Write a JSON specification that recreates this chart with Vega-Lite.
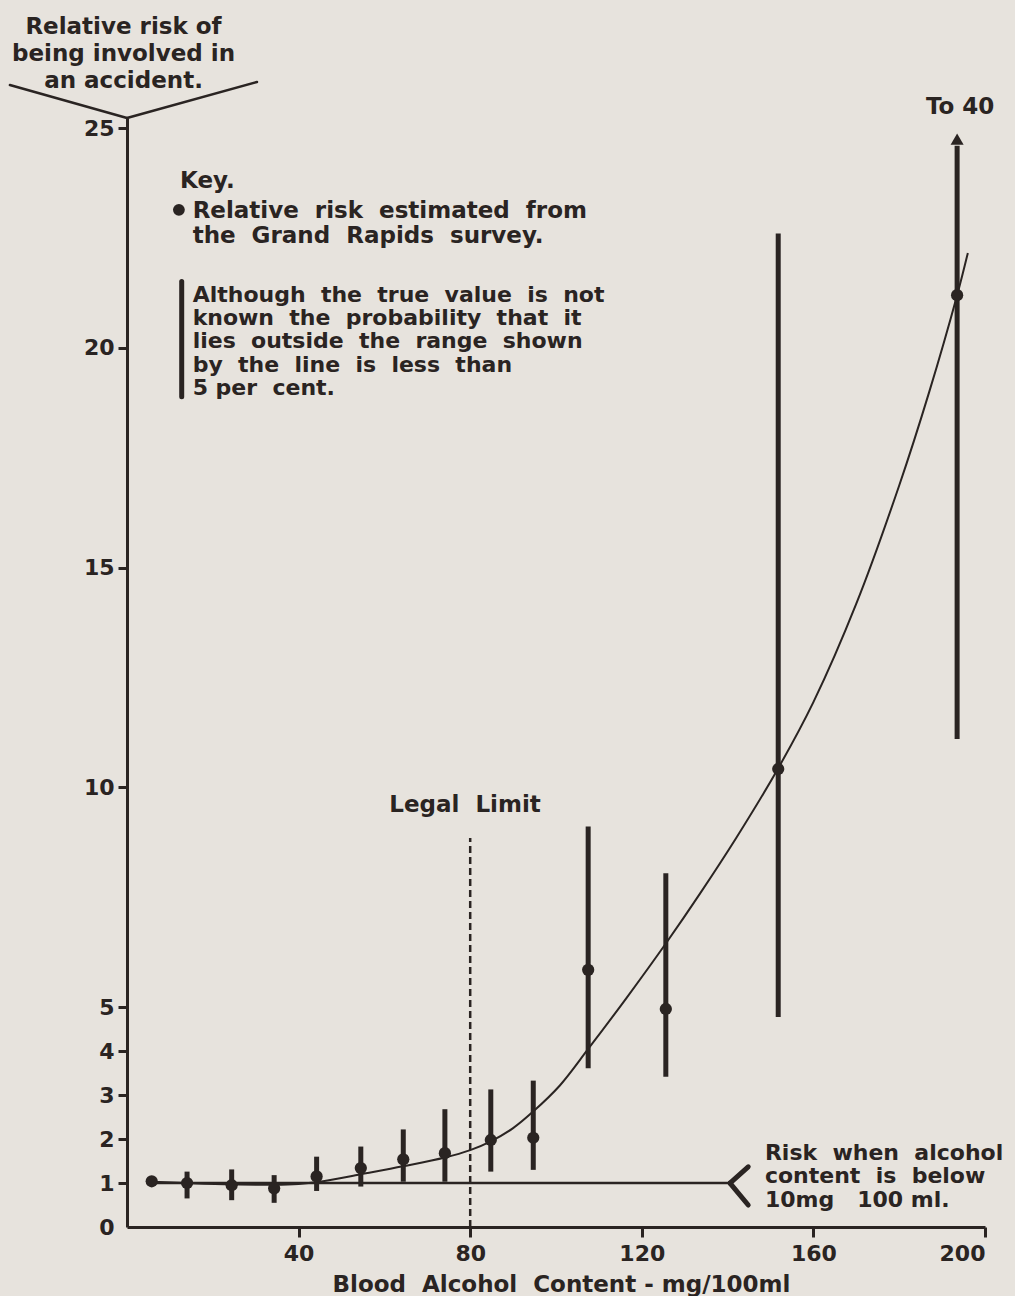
{
  "$schema": "https://vega.github.io/schema/vega-lite/v6.json",
  "width": 858,
  "height": 1109,
  "autosize": "none",
  "padding": {"left": 127, "top": 118, "right": 30, "bottom": 69},
  "background": "#e7e3dd",
  "config": {
    "view": {"stroke": null},
    "font": "DejaVu Sans",
    "axis": {
      "grid": false,
      "domainColor": "#2a2422",
      "domainWidth": 3,
      "tickColor": "#2a2422",
      "tickWidth": 3,
      "labelFont": "DejaVu Sans",
      "labelFontWeight": "bold",
      "labelFontSize": 22,
      "labelColor": "#2a2422",
      "titleFont": "DejaVu Sans",
      "titleFontWeight": "bold",
      "titleFontSize": 23,
      "titleColor": "#2a2422"
    }
  },
  "datasets": {
    "estimates": [
      {"x": 5.76, "y": 1.04},
      {"x": 14.0, "y": 1.0, "lo": 0.65, "hi": 1.26},
      {"x": 24.4, "y": 0.95, "lo": 0.61, "hi": 1.31},
      {"x": 34.3, "y": 0.88, "lo": 0.55, "hi": 1.18},
      {"x": 44.2, "y": 1.15, "lo": 0.82, "hi": 1.6},
      {"x": 54.5, "y": 1.34, "lo": 0.92, "hi": 1.83},
      {"x": 64.4, "y": 1.54, "lo": 1.03, "hi": 2.22},
      {"x": 74.1, "y": 1.68, "lo": 1.03, "hi": 2.68},
      {"x": 84.8, "y": 1.98, "lo": 1.26, "hi": 3.13},
      {"x": 94.7, "y": 2.03, "lo": 1.3, "hi": 3.33},
      {"x": 107.5, "y": 5.85, "lo": 3.61, "hi": 9.11},
      {"x": 125.6, "y": 4.96, "lo": 3.42, "hi": 8.05},
      {"x": 151.8, "y": 10.42, "lo": 4.78, "hi": 22.6},
      {"x": 193.5, "y": 21.2, "lo": 11.1, "hi": 24.6}
    ],
    "fitted": [
      {"x": 5.76, "y": 1.03},
      {"x": 14.0, "y": 1.0},
      {"x": 24.4, "y": 0.97},
      {"x": 34.3, "y": 0.96},
      {"x": 40.0, "y": 0.98},
      {"x": 45.7, "y": 1.04},
      {"x": 54.5, "y": 1.2},
      {"x": 64.3, "y": 1.38},
      {"x": 74.1, "y": 1.58},
      {"x": 80.0, "y": 1.75},
      {"x": 84.8, "y": 1.95},
      {"x": 90.0, "y": 2.25},
      {"x": 94.6, "y": 2.62},
      {"x": 100.9, "y": 3.22},
      {"x": 107.5, "y": 4.05},
      {"x": 116.5, "y": 5.22},
      {"x": 125.6, "y": 6.45},
      {"x": 133.6, "y": 7.59},
      {"x": 142.0, "y": 8.85},
      {"x": 151.7, "y": 10.42},
      {"x": 160.0, "y": 11.94},
      {"x": 170.0, "y": 14.18},
      {"x": 180.0, "y": 16.87},
      {"x": 187.0, "y": 19.0},
      {"x": 193.5, "y": 21.2},
      {"x": 196.0, "y": 22.16}
    ],
    "strokes": [
      {"part": "legal", "x": 80, "y": 0, "x2": 80, "y2": 8.85},
      {"part": "baseline", "x": 5.76, "y": 1.0, "x2": 140.56, "y2": 1.0},
      {"part": "chevron", "x": 140.56, "y": 1.0, "x2": 144.8, "y2": 1.37},
      {"part": "chevron", "x": 140.56, "y": 1.0, "x2": 144.8, "y2": 0.5},
      {"part": "vee", "x": -27.3, "y": 25.98, "x2": 0, "y2": 25.23},
      {"part": "vee", "x": 0, "y": 25.23, "x2": 30.3, "y2": 26.05},
      {"part": "keybar", "x": 12.75, "y": 18.89, "x2": 12.75, "y2": 21.51}
    ],
    "keyNotes": [
      {"x": 12.35, "y": 23.63, "text": "Key."},
      {"x": 15.3, "y": 22.95, "text": "Relative\u00a0 risk\u00a0 estimated\u00a0 from"},
      {"x": 15.3, "y": 22.38, "text": "the\u00a0 Grand\u00a0 Rapids\u00a0 survey."}
    ],
    "smallNotes": [
      {"x": 15.3, "y": 21.05, "text": "Although\u00a0 the\u00a0 true\u00a0 value\u00a0 is\u00a0 not"},
      {"x": 15.3, "y": 20.52, "text": "known\u00a0 the\u00a0 probability\u00a0 that\u00a0 it"},
      {"x": 15.3, "y": 19.99, "text": "lies\u00a0 outside\u00a0 the\u00a0 range\u00a0 shown"},
      {"x": 15.3, "y": 19.46, "text": "by\u00a0 the\u00a0 line\u00a0 is\u00a0 less\u00a0 than"},
      {"x": 15.3, "y": 18.93, "text": "5 per\u00a0 cent."},
      {"x": 148.7, "y": 1.52, "text": "Risk\u00a0 when\u00a0 alcohol"},
      {"x": 148.7, "y": 0.99, "text": "content\u00a0 is\u00a0 below"},
      {"x": 148.7, "y": 0.455, "text": "10mg\u00a0\u00a0 100 ml."}
    ],
    "centreNotes": [
      {"x": 78.8, "y": 9.44, "text": "Legal\u00a0 Limit"},
      {"x": 194.2, "y": 25.32, "text": "To 40"}
    ],
    "keyDot": [{"x": 12.1, "y": 23.14}],
    "arrowHead": [{"x": 193.5, "y": 24.75}]
  },
  "encoding": {
    "x": {
      "field": "x",
      "type": "quantitative",
      "scale": {"domain": [0, 200], "nice": false, "zero": false},
      "axis": {
        "values": [40, 80, 120, 160, 200],
        "tickSize": 10,
        "labelPadding": 6,
        "title": "Blood\u00a0 Alcohol\u00a0 Content - mg/100ml",
        "titleAlign": "center",
        "titleBaseline": "alphabetic",
        "titleX": 434,
        "titleY": 64
      }
    },
    "y": {
      "field": "y",
      "type": "quantitative",
      "scale": {"domain": [0, 25.23], "nice": false, "zero": false},
      "axis": {
        "values": [0, 1, 2, 3, 4, 5, 10, 15, 20, 25],
        "tickSize": 9,
        "labelPadding": 4,
        "tickOpacity": {"condition": {"test": "datum.value == 0", "value": 0}, "value": 1},
        "title": ["Relative risk of", "being involved in", "an accident."],
        "titleAngle": 0,
        "titleAlign": "center",
        "titleBaseline": "alphabetic",
        "titleLineHeight": 27,
        "titleX": -4,
        "titleY": -85
      }
    }
  },
  "layer": [
    {
      "data": {"name": "strokes"},
      "transform": [{"filter": "datum.part == 'legal'"}],
      "mark": {"type": "rule", "color": "#2a2422", "strokeWidth": 2.5, "strokeDash": [7, 4]},
      "encoding": {"x2": {"field": "x2"}, "y2": {"field": "y2"}}
    },
    {
      "data": {"name": "strokes"},
      "transform": [{"filter": "datum.part == 'baseline' || datum.part == 'vee'"}],
      "mark": {"type": "rule", "color": "#2a2422", "strokeWidth": 2.5, "strokeCap": "round"},
      "encoding": {"x2": {"field": "x2"}, "y2": {"field": "y2"}}
    },
    {
      "data": {"name": "strokes"},
      "transform": [{"filter": "datum.part == 'chevron' || datum.part == 'keybar'"}],
      "mark": {"type": "rule", "color": "#2a2422", "strokeWidth": 5, "strokeCap": "round"},
      "encoding": {"x2": {"field": "x2"}, "y2": {"field": "y2"}}
    },
    {
      "data": {"name": "fitted"},
      "mark": {"type": "line", "color": "#2a2422", "strokeWidth": 2, "interpolate": "catmull-rom"},
      "encoding": {}
    },
    {
      "data": {"name": "estimates"},
      "transform": [{"filter": "isValid(datum.lo)"}],
      "mark": {"type": "rule", "color": "#2a2422", "strokeWidth": 5},
      "encoding": {"y": {"field": "lo", "type": "quantitative"}, "y2": {"field": "hi"}}
    },
    {
      "data": {"name": "estimates"},
      "mark": {"type": "point", "shape": "circle", "filled": true, "color": "#2a2422", "opacity": 1, "size": 150},
      "encoding": {}
    },
    {
      "data": {"name": "arrowHead"},
      "mark": {"type": "point", "shape": "triangle-up", "filled": true, "color": "#2a2422", "opacity": 1, "size": 170},
      "encoding": {}
    },
    {
      "data": {"name": "keyDot"},
      "mark": {"type": "point", "shape": "circle", "filled": true, "color": "#2a2422", "opacity": 1, "size": 140},
      "encoding": {}
    },
    {
      "data": {"name": "keyNotes"},
      "mark": {"type": "text", "align": "left", "baseline": "alphabetic", "font": "DejaVu Sans", "fontWeight": "bold", "fontSize": 23, "color": "#2a2422"},
      "encoding": {"text": {"field": "text"}}
    },
    {
      "data": {"name": "smallNotes"},
      "mark": {"type": "text", "align": "left", "baseline": "alphabetic", "font": "DejaVu Sans", "fontWeight": "bold", "fontSize": 22, "color": "#2a2422"},
      "encoding": {"text": {"field": "text"}}
    },
    {
      "data": {"name": "centreNotes"},
      "mark": {"type": "text", "align": "center", "baseline": "alphabetic", "font": "DejaVu Sans", "fontWeight": "bold", "fontSize": 23, "color": "#2a2422"},
      "encoding": {"text": {"field": "text"}}
    }
  ]
}
